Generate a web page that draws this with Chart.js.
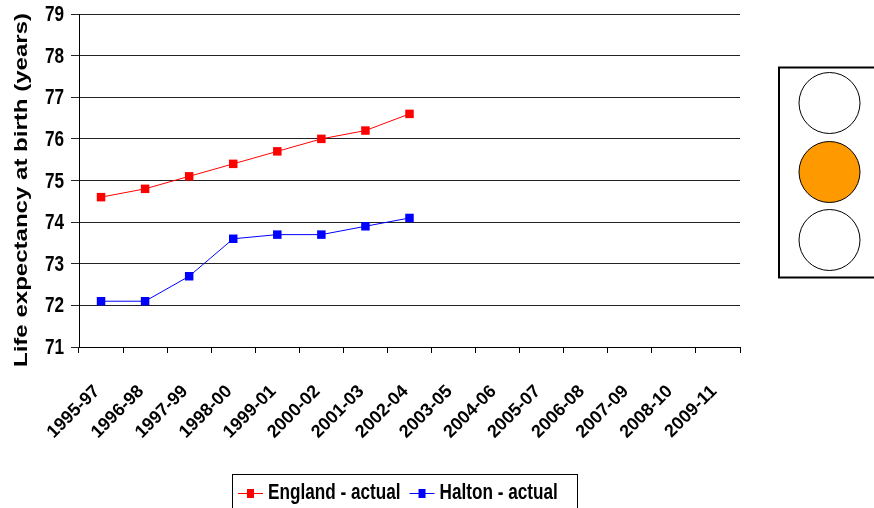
<!DOCTYPE html>
<html>
<head>
<meta charset="utf-8">
<script src="https://cdn.jsdelivr.net/npm/chart.js@4.4.1/dist/chart.umd.min.js"></script>
<style>
  html, body { margin: 0; padding: 0; background: #fff; }
  #wrap { position: relative; width: 874px; height: 508px; }
</style>
</head>
<body>
<div id="wrap"><canvas id="lifeChart" width="874" height="508"></canvas></div>
<script>
// life expectancy at birth, 3-year periods
const periods = ['1995-97', '1996-98', '1997-99', '1998-00', '1999-01', '2000-02', '2001-03',
    '2002-04', '2003-05', '2004-06', '2005-07', '2006-08', '2007-09', '2008-10', '2009-11'];
const englandActual = [74.6, 74.8, 75.1, 75.4, 75.7, 76.0, 76.2, 76.6];
const haltonActual = [72.1, 72.1, 72.7, 73.6, 73.7, 73.7, 73.9, 74.1];
const yTicks = [71, 72, 73, 74, 75, 76, 77, 78, 79];
const yTitle = 'Life expectancy at birth (years)';
// traffic light lamps, top to bottom (middle one lit = amber)
const lampColors = ['#ffffff', '#ff9900', '#ffffff'];

const FONT = '"Liberation Sans", Arial, sans-serif';
const SQUEEZE = 0.78; // no Arial Narrow here, so squash bold Arial by hand

// squashed text helper
function narrowText(ctx, text, x, y, align) {
    ctx.save();
    ctx.translate(x, y);
    ctx.scale(SQUEEZE, 1);
    ctx.textAlign = align;
    ctx.fillText(text, 0, 0);
    ctx.restore();
}

const narrowPlugin = {
    id: 'narrowText',
    afterDraw(chart) {
        const ctx = chart.ctx;
        const y = chart.scales.y;

        // y tick labels
        ctx.save();
        ctx.fillStyle = '#000';
        ctx.font = 'bold 22px ' + FONT;
        ctx.textBaseline = 'middle';
        y.ticks.forEach(t => {
            narrowText(ctx, String(t.value), 64, y.getPixelForValue(t.value) + 1, 'right');
        });

        // y title, stretched along its length like the original
        ctx.font = 'bold 18px ' + FONT;
        ctx.textBaseline = 'alphabetic';
        ctx.textAlign = 'center';
        const stretch = 354 / ctx.measureText(yTitle).width;
        ctx.save();
        ctx.translate(27, 190);
        ctx.rotate(-Math.PI / 2);
        ctx.scale(stretch, 1);
        ctx.fillText(yTitle, 0, 0);
        ctx.restore();
        ctx.restore();

        // legend: line + square marker, squashed text, boxed
        ctx.save();
        ctx.strokeStyle = '#000';
        ctx.lineWidth = 1;
        ctx.strokeRect(232.5, 474.5, 345, 40);
        ctx.font = 'bold 22px ' + FONT;
        ctx.textBaseline = 'middle';
        let x = 238;
        chart.data.datasets.forEach(ds => {
            ctx.strokeStyle = ds.borderColor;
            ctx.beginPath();
            ctx.moveTo(x, 493.5);
            ctx.lineTo(x + 25, 493.5);
            ctx.stroke();
            ctx.fillStyle = ds.backgroundColor;
            ctx.fillRect(x + 9, 489, 7, 9);
            ctx.fillStyle = '#000';
            narrowText(ctx, ds.label, x + 30, 493, 'left');
            x += 30 + ctx.measureText(ds.label).width * SQUEEZE + 9;
        });
        ctx.restore();

        // traffic light
        ctx.save();
        ctx.lineWidth = 2;
        ctx.strokeStyle = '#000';
        ctx.strokeRect(779, 67.5, 100, 210);
        ctx.lineWidth = 1;
        const cy = [103, 172, 240];
        lampColors.forEach((c, i) => {
            ctx.beginPath();
            ctx.arc(829.5, cy[i], 30.5, 0, Math.PI * 2);
            ctx.fillStyle = c;
            ctx.fill();
            ctx.stroke();
        });
        ctx.restore();
    }
};

new Chart(document.getElementById('lifeChart').getContext('2d'), {
    type: 'line',
    data: {
        labels: periods,
        datasets: [{
            label: 'England - actual',
            data: englandActual,
            borderColor: '#ff0000',
            backgroundColor: '#ff0000',
            borderWidth: 1,
            pointStyle: 'rect',
            pointRadius: 6,
            pointBorderWidth: 0,
            tension: 0
        }, {
            label: 'Halton - actual',
            data: haltonActual,
            borderColor: '#0000ff',
            backgroundColor: '#0000ff',
            borderWidth: 1,
            pointStyle: 'rect',
            pointRadius: 6,
            pointBorderWidth: 0,
            tension: 0
        }]
    },
    options: {
        responsive: false,
        animation: false,
        devicePixelRatio: 1,
        layout: { padding: { top: 14, right: 134, bottom: 0, left: 0 } },
        plugins: {
            legend: { display: false },
            tooltip: { enabled: false }
        },
        scales: {
            x: {
                offset: true,
                grid: {
                    display: true,
                    drawOnChartArea: false,
                    color: '#000',
                    tickLength: 6,
                    offset: true
                },
                border: { color: '#000', width: 1 },
                ticks: {
                    color: '#000',
                    font: { family: FONT, size: 18, weight: 'bold' },
                    maxRotation: 45,
                    minRotation: 45,
                    autoSkip: false,
                    padding: 28,
                    labelOffset: -4
                },
                afterFit(scale) { scale.height = 161; }
            },
            y: {
                min: 71,
                max: 79,
                afterBuildTicks(scale) { scale.ticks = yTicks.map(v => ({ value: v })); },
                grid: { color: '#222', tickLength: 8 },
                border: { color: '#000', width: 1 },
                ticks: { display: false },
                title: { display: false },
                afterFit(scale) { scale.width = 79; }
            }
        }
    },
    plugins: [narrowPlugin]
});
</script>
</body>
</html>
